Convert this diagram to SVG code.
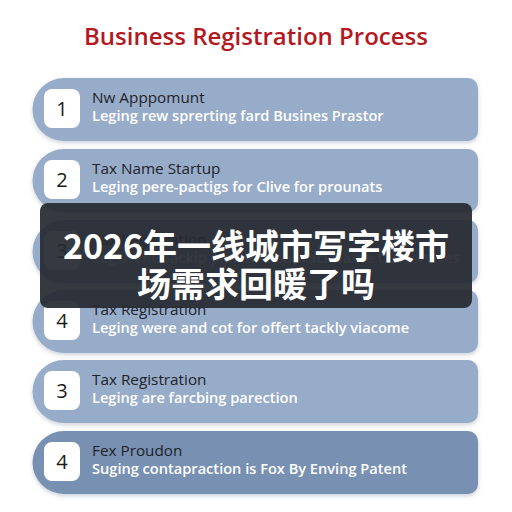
<svg xmlns="http://www.w3.org/2000/svg" width="512" height="512" viewBox="0 0 512 512">
<defs>
<filter id="sh" x="-5%" y="-10%" width="110%" height="130%">
<feDropShadow dx="0" dy="2" stdDeviation="2" flood-color="#5a6a80" flood-opacity="0.3"/>
</filter>
</defs>
<style>
.pill{fill:#97acc9;filter:url(#sh)}
.pill.dark{fill:#7891b2}
.box{fill:#ffffff}
.num{font-family:"Open Sans","Liberation Sans",sans-serif;font-size:20px;fill:#1a1a1a;text-anchor:middle}
.t{font-family:"Open Sans","Liberation Sans",sans-serif;font-size:15.3px;fill:#1f2329}
.s{font-family:"Open Sans","Liberation Sans",sans-serif;font-size:14.6px;font-weight:600;fill:#ffffff}
.title{font-family:"Open Sans","Liberation Sans",sans-serif;font-size:24px;font-weight:600;fill:#b3191e;text-anchor:middle}
.ov{font-family:"Noto Sans CJK SC","Noto Sans",sans-serif;font-size:34px;font-weight:700;fill:#ffffff;text-anchor:middle}
</style>
<rect width="512" height="512" fill="#ffffff"/>
<text class="title" x="256" y="45">Business Registration Process</text>
<g id="connectors"/>
<g id="step1">
<path class="pill" d="M64,78 H468 A10,10 0 0 1 478,88 V131 A10,10 0 0 1 468,141 H64 A31.5,31.5 0 0 1 64,78 Z"/>
<rect class="box" x="44" y="89" width="36" height="39" rx="8"/>
<text class="num" x="62" y="116">1</text>
<text class="t" x="92" y="103">Nw Apppomunt</text>
<text class="s" x="92" y="121">Leging rew sprerting fard Busines Prastor</text>
</g>
<g id="step2">
<path class="pill" d="M64,149 H468 A10,10 0 0 1 478,159 V202 A10,10 0 0 1 468,212 H64 A31.5,31.5 0 0 1 64,149 Z"/>
<rect class="box" x="44" y="160" width="36" height="39" rx="8"/>
<text class="num" x="62" y="187">2</text>
<text class="t" x="92" y="174">Tax Name Startup</text>
<text class="s" x="92" y="192">Leging pere-pactigs for Clive for prounats</text>
</g>
<g id="step3">
<path class="pill" d="M64,220 H468 A10,10 0 0 1 478,230 V273 A10,10 0 0 1 468,283 H64 A31.5,31.5 0 0 1 64,220 Z"/>
<rect class="box" x="44" y="231" width="36" height="39" rx="8"/>
<text class="num" x="62" y="258">3</text>
<text class="t" x="92" y="245">Tax Registration</text>
<text class="s" x="92" y="263">Legistent backip plan and supracl Name tax services</text>
</g>
<g id="step4">
<path class="pill" d="M64,290 H468 A10,10 0 0 1 478,300 V343 A10,10 0 0 1 468,353 H64 A31.5,31.5 0 0 1 64,290 Z"/>
<rect class="box" x="44" y="301" width="36" height="39" rx="8"/>
<text class="num" x="62" y="328">4</text>
<text class="t" x="92" y="315">Tax Registration</text>
<text class="s" x="92" y="333">Leging were and cot for offert tackly viacome</text>
</g>
<g id="step5">
<path class="pill" d="M64,360 H468 A10,10 0 0 1 478,370 V413 A10,10 0 0 1 468,423 H64 A31.5,31.5 0 0 1 64,360 Z"/>
<rect class="box" x="44" y="371" width="36" height="39" rx="8"/>
<text class="num" x="62" y="398">3</text>
<text class="t" x="92" y="385">Tax Registration</text>
<text class="s" x="92" y="403">Leging are farcbing parection</text>
</g>
<g id="step6">
<path class="pill dark" d="M64,431 H468 A10,10 0 0 1 478,441 V484 A10,10 0 0 1 468,494 H64 A31.5,31.5 0 0 1 64,431 Z"/>
<rect class="box" x="44" y="442" width="36" height="39" rx="8"/>
<text class="num" x="62" y="469">4</text>
<text class="t" x="92" y="456">Fex Proudon</text>
<text class="s" x="92" y="474">Suging contapraction is Fox By Enving Patent</text>
</g>
<g id="overlay">
<rect x="40" y="203" width="432" height="105" rx="8" fill="#262a32" fill-opacity="0.93"/>
<text class="ov" x="256" y="259">2026年一线城市写字楼市</text>
<text class="ov" x="256" y="297">场需求回暖了吗</text>
</g>
</svg>
